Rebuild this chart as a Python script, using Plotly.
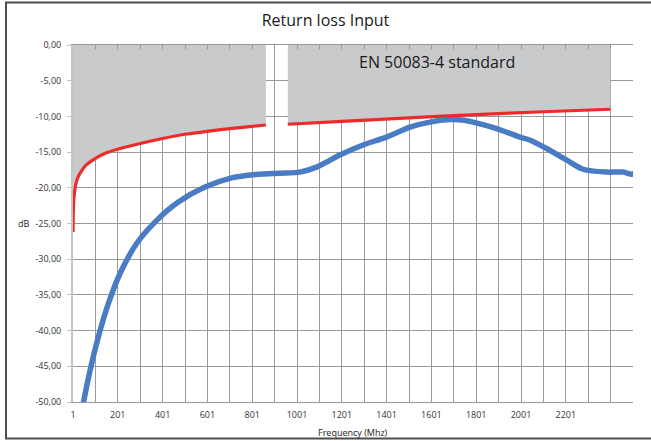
import plotly.graph_objects as go

# ---- data ----
blue_freq = [40, 47, 77, 114, 159, 211, 285, 367, 471, 590, 709, 828, 925, 1014, 1088,
             1192, 1296, 1400, 1505, 1594, 1683, 1740, 1787, 1892, 1996, 2040, 2115, 2204,
             2278, 2382, 2457, 2494, 2505]
blue_db = [-51.5, -50.2, -45.6, -40.9, -36.2, -32.0, -27.8, -24.8, -22.0, -19.9, -18.6, -18.1,
           -17.95, -17.8, -17.1, -15.4, -14.0, -12.9, -11.5, -10.8, -10.45, -10.5, -10.8, -11.7,
           -12.9, -13.3, -14.5, -16.1, -17.4, -17.8, -17.8, -18.1, -18.0]

std1_freq = [1, 2, 4, 8, 15, 25, 40, 60, 100, 150, 200, 300, 400, 500, 600, 700, 800, 862]
std1_db = [-26.2, -24.0, -22.0, -20.6, -19.3, -18.4, -17.6, -16.8, -15.9, -15.1, -14.6, -13.8,
           -13.1, -12.5, -12.1, -11.7, -11.4, -11.2]

std2_freq = [960, 1200, 1500, 1800, 2100, 2400]
std2_db = [-11.1, -10.7, -10.2, -9.75, -9.35, -9.0]

x_tick_values = [1, 101, 201, 301, 401, 501, 601, 701, 801, 901, 1001, 1101, 1201, 1301,
                 1401, 1501, 1601, 1701, 1801, 1901, 2001, 2101, 2201, 2301, 2401, 2501]
x_tick_labels = ["1", "", "201", "", "401", "", "601", "", "801", "", "1001", "", "1201", "",
                 "1401", "", "1601", "", "1801", "", "2001", "", "2201", "", "", ""]
y_tick_values = [0, -5, -10, -15, -20, -25, -30, -35, -40, -45, -50]
y_tick_labels = ["0,00", "-5,00", "-10,00", "-15,00", "-20,00", "-25,00", "-30,00",
                 "-35,00", "-40,00", "-45,00", "-50,00"]

title_text = "Return loss Input"
standard_text = "EN 50083-4 standard"
x_title = "Frequency (Mhz)"
y_title = "dB"

RED = "#EE2B2B"
BLUE = "#4A7CC4"
GREY = "#C9CACC"
GRID = "#9A9A9A"
FONT = "Open Sans"

fig = go.Figure()

# grey limit area (between 0 and the standard curve)
for fx, fy in [(std1_freq, std1_db), (std2_freq, std2_db)]:
    fig.add_trace(go.Scatter(x=fx, y=[0] * len(fx), mode="lines",
                             line=dict(width=0, color=GREY), hoverinfo="skip",
                             showlegend=False))
    fig.add_trace(go.Scatter(x=fx, y=fy, mode="lines", fill="tonexty",
                             fillcolor=GREY, line=dict(width=0, color=GREY, shape="spline"),
                             hoverinfo="skip", showlegend=False))

fig.add_trace(go.Scatter(x=blue_freq, y=blue_db, mode="lines",
                         line=dict(color=BLUE, width=5.5, shape="spline", smoothing=0.8),
                         showlegend=False))
for fx, fy in [(std1_freq, std1_db), (std2_freq, std2_db)]:
    fig.add_trace(go.Scatter(x=fx, y=fy, mode="lines",
                             line=dict(color=RED, width=3.2, shape="spline", smoothing=0.6),
                             showlegend=False))

fig.update_layout(
    width=651, height=441,
    margin=dict(l=73, r=18, t=45, b=39),
    paper_bgcolor="white", plot_bgcolor="white",
    font=dict(family=FONT, color="#333333", size=9),
    title=dict(text=title_text, x=0.5, xanchor="center", y=1 - 20 / 441, yanchor="middle",
               font=dict(family=FONT, size=16, color="#1a1a1a")),
    xaxis=dict(range=[1, 2501], tickmode="array", tickvals=x_tick_values,
               ticktext=x_tick_labels, showgrid=True, gridcolor=GRID, gridwidth=1,
               zeroline=False, showline=True, linecolor="#999999", linewidth=1,
               mirror="allticks", ticks="inside", ticklen=4, tickcolor="#999999",
               tickfont=dict(size=9, color="#333333"), ticklabelstandoff=4),
    yaxis=dict(range=[-50, 0], tickmode="array", tickvals=y_tick_values,
               ticktext=y_tick_labels, showgrid=True, gridcolor=GRID, gridwidth=1,
               zeroline=False, showline=True, linecolor="#C4C4C4", linewidth=2,
               ticks="outside", ticklen=4, tickcolor="#C4C4C4",
               tickfont=dict(size=9, color="#333333"), ticklabelstandoff=4),
    annotations=[
        dict(text=standard_text, x=1625, y=-2.4, xref="x", yref="y", showarrow=False,
             xanchor="center", yanchor="middle",
             font=dict(family=FONT, size=16, color="#1a1a1a")),
        dict(text=x_title, x=0.5, y=(402 - 432) / 357, xref="paper", yref="paper",
             showarrow=False, xanchor="center", yanchor="middle",
             font=dict(size=9, color="#222222")),
        dict(text=y_title, x=(24 - 73) / 560, y=-25, xref="paper", yref="y",
             showarrow=False, xanchor="center", yanchor="middle",
             font=dict(size=9, color="#222222")),
    ],
    shapes=[dict(type="rect", xref="paper", yref="paper",
                 x0=(6 - 73) / 560, x1=(665 - 73) / 560,
                 y0=(402 - 438.5) / 357, y1=(402 - 2.5) / 357,
                 line=dict(color="#4D4D4D", width=2), fillcolor="rgba(0,0,0,0)",
                 layer="below")],
)

fig.write_html("out.html", config={"displayModeBar": False},
               post_script="document.body.style.margin='0';")
